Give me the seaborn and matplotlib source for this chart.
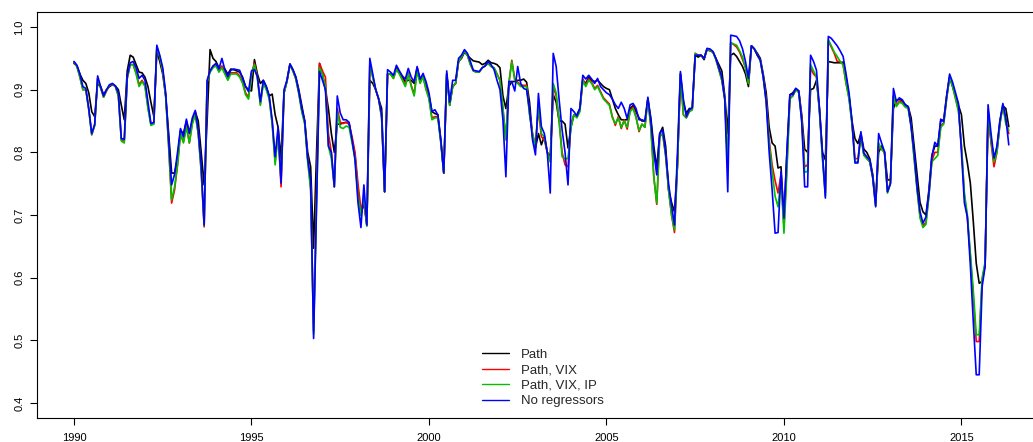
import numpy as np
import pandas as pd
import seaborn as sns
import matplotlib
matplotlib.use("Agg")
import matplotlib.pyplot as plt
from matplotlib.lines import Line2D

# series mensais, jan/1990 ate mai/2016 (uma linha por ano)
no_reg = [
    .945, .939, .925, .905, .902, .870, .830, .845, .922, .905, .890, .900,
    .908, .910, .906, .895, .822, .821, .922, .943, .945, .935, .918, .923,
    .915, .880, .846, .848, .971, .955, .935, .895, .820, .748, .765, .800,
    .838, .825, .853, .831, .855, .867, .835, .780, .684, .915, .930, .938,
    .942, .933, .950, .932, .921, .931, .933, .932, .931, .918, .905, .897,
    .930, .932, .921, .881, .915, .905, .890, .852, .793, .841, .751, .900,
    .915, .941, .932, .920, .897, .870, .850, .790, .755, .503, .716, .929,
    .915, .900, .810, .800, .745, .890, .863, .852, .852, .848, .820, .788,
    .720, .680, .748, .684, .950, .925, .900, .885, .860, .737, .932, .928,
    .923, .939, .930, .922, .917, .934, .920, .913, .937, .917, .926, .913,
    .895, .865, .868, .860, .820, .767, .930, .880, .915, .915, .950, .955,
    .964, .958, .945, .931, .930, .929, .935, .938, .945, .940, .932, .915,
    .900, .852, .761, .913, .913, .898, .937, .910, .902, .900, .868, .820,
    .796, .894, .841, .830, .799, .735, .958, .937, .884, .836, .800, .748,
    .870, .865, .858, .870, .923, .917, .923, .917, .910, .918, .905, .900,
    .895, .892, .885, .876, .870, .880, .870, .854, .876, .878, .870, .852,
    .852, .850, .888, .850, .800, .764, .830, .836, .800, .750, .715, .684,
    .800, .929, .885, .857, .868, .871, .955, .955, .955, .950, .966, .965,
    .961, .950, .935, .920, .884, .737, .987, .986, .985, .978, .965, .945,
    .918, .970, .965, .955, .947, .920, .880, .800, .740, .671, .672, .769,
    .695, .800, .892, .892, .902, .898, .850, .745, .745, .955, .945, .931,
    .870, .800, .727, .985, .982, .976, .970, .962, .953, .925, .895, .850,
    .783, .783, .833, .799, .793, .788, .761, .713, .830, .815, .801, .737,
    .750, .902, .881, .887, .884, .876, .873, .841, .800, .745, .705, .687,
    .697, .735, .793, .816, .810, .853, .849, .890, .925, .912, .895, .878,
    .800, .719, .697, .620, .530, .445, .445, .586, .618, .876, .830, .791,
    .810, .850, .878, .855, .812,
]

path = [
    .942, .938, .925, .915, .910, .895, .865, .857, .910, .905, .892, .900,
    .905, .908, .906, .900, .875, .852, .930, .955, .952, .940, .928, .927,
    .920, .905, .880, .857, .962, .945, .925, .890, .830, .767, .767, .790,
    .835, .830, .850, .830, .850, .865, .850, .800, .748, .850, .964, .950,
    .945, .935, .935, .933, .925, .933, .932, .930, .928, .920, .905, .900,
    .898, .948, .925, .910, .915, .905, .890, .893, .860, .840, .790, .895,
    .915, .941, .932, .920, .900, .875, .850, .800, .777, .647, .800, .942,
    .925, .900, .870, .830, .800, .845, .845, .847, .848, .845, .820, .795,
    .740, .700, .720, .684, .915, .910, .900, .885, .870, .737, .925, .925,
    .920, .935, .928, .920, .913, .915, .915, .910, .935, .915, .920, .905,
    .890, .865, .862, .860, .820, .767, .925, .875, .905, .910, .945, .950,
    .960, .955, .950, .946, .945, .944, .940, .942, .947, .943, .942, .940,
    .935, .890, .870, .905, .913, .913, .915, .915, .917, .912, .880, .825,
    .807, .830, .812, .826, .800, .793, .892, .880, .850, .850, .845, .807,
    .840, .860, .860, .870, .915, .910, .920, .915, .913, .915, .910, .905,
    .902, .900, .885, .870, .860, .852, .852, .852, .870, .875, .865, .855,
    .850, .850, .885, .855, .810, .775, .830, .840, .810, .740, .720, .705,
    .780, .925, .880, .862, .870, .870, .955, .952, .955, .948, .964, .962,
    .960, .950, .940, .930, .890, .830, .955, .958, .953, .945, .937, .925,
    .905, .970, .965, .958, .950, .925, .895, .840, .815, .810, .775, .777,
    .695, .800, .892, .895, .902, .898, .860, .805, .800, .900, .902, .915,
    .870, .800, .788, .945, .944, .943, .943, .943, .944, .920, .890, .850,
    .822, .814, .830, .805, .800, .790, .765, .720, .800, .810, .800, .756,
    .756, .870, .883, .885, .882, .876, .873, .855, .810, .765, .720, .705,
    .700, .740, .795, .810, .810, .850, .852, .890, .920, .905, .890, .875,
    .860, .810, .783, .751, .690, .623, .591, .594, .620, .860, .820, .790,
    .805, .850, .874, .870, .841,
]

path_vix = [
    .944, .937, .920, .900, .900, .868, .828, .843, .918, .903, .888, .898,
    .907, .909, .905, .890, .820, .818, .918, .940, .940, .927, .908, .915,
    .907, .872, .845, .846, .968, .952, .930, .890, .810, .719, .740, .780,
    .830, .817, .842, .815, .847, .862, .830, .770, .681, .912, .930, .937,
    .940, .930, .938, .927, .917, .927, .927, .927, .922, .912, .895, .888,
    .927, .942, .920, .877, .912, .902, .887, .847, .785, .832, .745, .895,
    .913, .940, .930, .917, .895, .867, .847, .790, .745, .515, .740, .942,
    .930, .920, .830, .800, .745, .870, .848, .846, .848, .846, .825, .800,
    .750, .710, .720, .684, .940, .920, .900, .885, .855, .737, .925, .925,
    .918, .933, .926, .917, .907, .927, .907, .893, .932, .912, .922, .902,
    .887, .855, .857, .857, .817, .767, .925, .878, .905, .910, .945, .952,
    .962, .955, .940, .930, .928, .928, .935, .938, .942, .937, .935, .925,
    .915, .870, .820, .910, .947, .917, .912, .907, .907, .907, .862, .830,
    .810, .870, .825, .820, .800, .785, .905, .890, .850, .800, .780, .777,
    .845, .860, .857, .867, .917, .907, .917, .912, .902, .907, .897, .887,
    .882, .877, .857, .843, .857, .838, .852, .837, .867, .872, .857, .833,
    .845, .840, .885, .842, .762, .717, .825, .830, .795, .740, .700, .672,
    .780, .925, .860, .855, .865, .868, .958, .955, .955, .950, .965, .963,
    .960, .948, .932, .915, .885, .780, .975, .972, .968, .960, .948, .935,
    .910, .970, .965, .955, .947, .920, .885, .820, .780, .755, .735, .765,
    .680, .780, .887, .890, .900, .897, .855, .777, .780, .935, .925, .920,
    .867, .795, .735, .978, .968, .958, .945, .945, .940, .910, .887, .847,
    .790, .790, .827, .797, .790, .785, .760, .715, .810, .805, .800, .737,
    .752, .890, .875, .882, .880, .874, .871, .842, .792, .742, .698, .683,
    .688, .732, .787, .800, .800, .842, .847, .887, .920, .907, .887, .867,
    .810, .730, .695, .635, .570, .498, .498, .595, .622, .868, .815, .777,
    .800, .845, .875, .850, .830,
]

path_vix_ip = [
    .944, .937, .920, .900, .900, .868, .828, .843, .918, .903, .888, .899,
    .907, .909, .905, .890, .818, .815, .918, .940, .940, .925, .905, .913,
    .905, .870, .843, .845, .968, .952, .930, .890, .810, .724, .745, .780,
    .830, .815, .840, .815, .845, .860, .830, .770, .684, .912, .928, .935,
    .938, .928, .935, .925, .915, .925, .925, .925, .920, .910, .892, .885,
    .925, .940, .918, .875, .910, .900, .885, .845, .780, .830, .755, .895,
    .913, .940, .930, .917, .893, .865, .845, .785, .740, .510, .720, .935,
    .925, .905, .810, .790, .745, .865, .840, .838, .842, .840, .815, .790,
    .730, .700, .730, .682, .940, .920, .900, .885, .855, .737, .925, .925,
    .918, .932, .925, .915, .905, .925, .905, .890, .930, .910, .920, .900,
    .885, .852, .855, .855, .815, .767, .925, .875, .905, .910, .945, .952,
    .962, .955, .940, .930, .928, .928, .935, .938, .942, .937, .935, .925,
    .915, .870, .820, .910, .945, .915, .910, .905, .905, .905, .860, .830,
    .810, .875, .830, .825, .800, .785, .910, .895, .850, .793, .790, .790,
    .840, .860, .855, .865, .915, .905, .915, .910, .900, .905, .895, .885,
    .880, .875, .855, .846, .855, .840, .850, .840, .865, .870, .855, .835,
    .845, .840, .885, .840, .760, .719, .825, .830, .795, .740, .700, .676,
    .780, .925, .860, .855, .865, .868, .958, .955, .955, .950, .965, .963,
    .960, .948, .932, .915, .885, .780, .975, .973, .971, .962, .952, .935,
    .910, .970, .965, .955, .947, .920, .880, .815, .770, .730, .713, .760,
    .671, .770, .885, .890, .900, .895, .850, .768, .770, .940, .930, .920,
    .865, .790, .730, .980, .970, .960, .953, .945, .940, .910, .885, .845,
    .785, .785, .825, .795, .790, .785, .760, .715, .815, .805, .800, .735,
    .750, .890, .873, .880, .878, .872, .870, .840, .790, .740, .695, .680,
    .685, .730, .785, .790, .795, .840, .845, .885, .920, .905, .885, .865,
    .810, .735, .700, .640, .580, .509, .509, .600, .625, .865, .820, .785,
    .800, .845, .875, .845, .835,
]

nomes = ["Path", "Path, VIX", "Path, VIX, IP", "No regressors"]
cores = ["black", "red", "#00c000", "blue"]

# eixo do tempo: um ponto por mes a partir de 1990
n = len(no_reg)
tempo = 1990 + np.arange(n) / 12.0

dados = pd.DataFrame({
    "t": np.tile(tempo, 4),
    "v": np.concatenate([path, path_vix, path_vix_ip, no_reg]),
    "modelo": np.repeat(nomes, n),
})

sns.set_style("ticks")
plt.rcParams['font.family'] = ['Liberation Sans', 'DejaVu Sans']

fig = plt.figure(figsize=(10.33, 4.42), dpi=100)
ax = fig.add_axes([37/1033, 24/442, 1010/1033, 406/442])

sns.lineplot(data=dados, x="t", y="v", hue="modelo", hue_order=nomes,
             palette=cores, estimator=None, sort=False, linewidth=1.2,
             legend=False, ax=ax)

ax.set_xlim(1988.958, 2017.41)
ax.set_ylim(0.376, 1.024)
ax.set_xticks([1990, 1995, 2000, 2005, 2010, 2015])
ax.set_yticks([0.4, 0.5, 0.6, 0.7, 0.8, 0.9, 1.0])
ax.set_yticklabels(["0.4", "0.5", "0.6", "0.7", "0.8", "0.9", "1.0"],
                   rotation=90, va="center")
ax.tick_params(axis="both", direction="out", length=5, width=0.8,
               labelsize=8, colors="black")
ax.tick_params(axis="y", pad=4)
ax.tick_params(axis="x", pad=6)
ax.set_xlabel("")
ax.set_ylabel("")
for s in ax.spines.values():
    s.set_visible(True)
    s.set_color("black")
    s.set_linewidth(0.8)

handles = [Line2D([0], [0], color=c, lw=1) for c in cores]
ax.legend(handles, nomes, loc="lower left", bbox_to_anchor=(0.435, 0.013),
          frameon=False, fontsize=9.5, handlelength=2.1, labelspacing=0.25,
          handletextpad=0.9, borderaxespad=0)

fig.savefig("out.png", dpi=100)
